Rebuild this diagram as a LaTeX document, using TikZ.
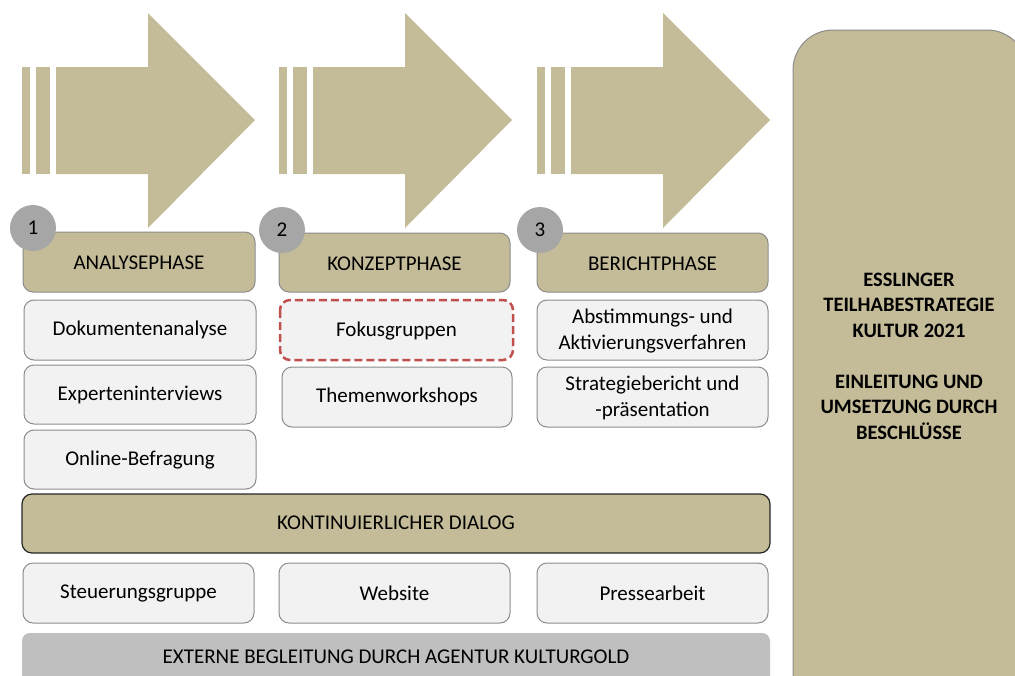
\documentclass[tikz,border=0pt]{standalone}
\usepackage{fontspec}
\setmainfont{Carlito}
\definecolor{tan}{HTML}{C4BC98}
\definecolor{lightbox}{HTML}{F2F2F2}
\definecolor{boxline}{HTML}{8C8C8C}
\definecolor{badge}{HTML}{A6A6A6}
\definecolor{dashred}{HTML}{C0504D}
\definecolor{extgray}{HTML}{BFBFBF}
\begin{document}
\begin{tikzpicture}[x=1pt,y=-1pt,
  txt/.style={font=\fontsize{21}{26}\selectfont, align=center, text=black},
  phasebox/.style={draw=boxline, line width=1pt, fill=tan, rounded corners=10pt},
  itembox/.style={draw=boxline, line width=1pt, fill=lightbox, rounded corners=10pt},
  focusbox/.style={draw=dashred, line width=2.5pt, dash pattern=on 8pt off 4pt, fill=lightbox, rounded corners=10pt},
  badgecircle/.style={circle, fill=badge, minimum size=46pt, inner sep=0pt},
  arrowfill/.style={fill=tan, draw=none}]
\useasboundingbox (0,0) rectangle (1015,675);
\clip (0,0) rectangle (1015,675);

% result box on the right
\draw[draw=boxline, line width=1pt, fill=tan, rounded corners=40pt] (793,30) rectangle (1027,720);
\node[txt, font=\fontsize{20.5}{25.5}\selectfont\bfseries] (result) at (909,356)
  {ESSLINGER\\TEILHABESTRATEGIE\\KULTUR 2021\\[25.5pt]EINLEITUNG UND\\UMSETZUNG DURCH\\BESCHLÜSSE};

% the three striped block arrows
\foreach \dx in {0,257,515} {
  \fill[arrowfill] (22+\dx,67) rectangle (30+\dx,174);
  \fill[arrowfill] (36+\dx,67) rectangle (50+\dx,174);
  \fill[arrowfill] (56+\dx,67) -- (148+\dx,67) -- (148+\dx,13) -- (255+\dx,120)
     -- (148+\dx,228) -- (148+\dx,174) -- (56+\dx,174) -- cycle;
}

% phase headers
\draw[phasebox] (23,232) rectangle (255,292);
\node[txt] (p1) at (139,263) {ANALYSEPHASE};
\draw[phasebox] (279,233) rectangle (510,292);
\node[txt] (p2) at (394.5,264) {KONZEPTPHASE};
\draw[phasebox] (537,233) rectangle (768,292);
\node[txt] (p3) at (652.5,264) {BERICHTPHASE};

% numbered badges
\node[badgecircle] (b1) at (33,228) {};
\node[txt, anchor=base] at (33,234) {1};
\node[badgecircle] (b2) at (282,230) {};
\node[txt, anchor=base] at (282,236) {2};
\node[badgecircle] (b3) at (540,230) {};
\node[txt, anchor=base] at (540,236) {3};

% phase 1 items
\draw[itembox] (24,300) rectangle (256,360);
\node[txt] (a1) at (140,330) {Dokumentenanalyse};
\draw[itembox] (24,365) rectangle (256,424);
\node[txt] (a2) at (140,395) {Experteninterviews};
\draw[itembox] (24,430) rectangle (256,489);
\node[txt] (a3) at (140,460) {Online-Befragung};

% phase 2 items
\draw[focusbox] (280,300) rectangle (513,360);
\node[txt] (k1) at (396.5,331) {Fokusgruppen};
\draw[itembox] (282,367) rectangle (512,427);
\node[txt] (k2) at (397,397) {Themenworkshops};

% phase 3 items
\draw[itembox] (537,300) rectangle (768,360);
\node[txt] (r1) at (652.5,331) {Abstimmungs- und\\Aktivierungsverfahren};
\draw[itembox] (537,367) rectangle (768,427);
\node[txt] (r2) at (652.5,398) {Strategiebericht und\\-präsentation};

% continuous dialogue
\draw[draw=black!85, line width=1.2pt, fill=tan, rounded corners=10pt] (22,494) rectangle (770,553);
\node[txt] (dialog) at (396,523) {KONTINUIERLICHER DIALOG};

\draw[itembox] (23,563) rectangle (254,623);
\node[txt] (d1) at (138.5,593) {Steuerungsgruppe};
\draw[itembox] (279,563) rectangle (510,623);
\node[txt] (d2) at (394.5,593) {Website};
\draw[itembox] (537,563) rectangle (768,623);
\node[txt] (d3) at (652.5,593) {Pressearbeit};

% external support bar
\fill[extgray, rounded corners=8pt] (22,633) rectangle (770,700);
\node[txt] (ext) at (396,657) {EXTERNE BEGLEITUNG DURCH AGENTUR KULTURGOLD};
\end{tikzpicture}
\end{document}
